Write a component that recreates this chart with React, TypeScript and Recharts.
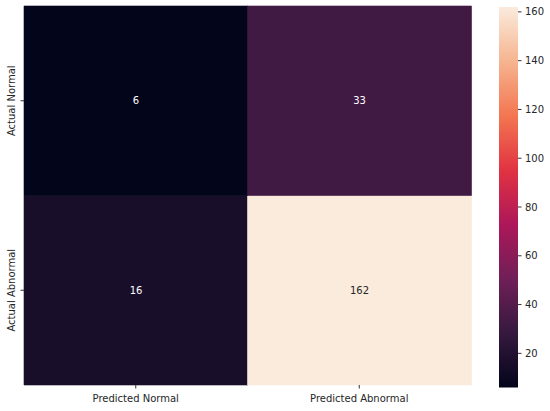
import React from "react";
import {
  BarChart,
  Bar,
  Cell,
  XAxis,
  YAxis,
  LabelList,
} from "recharts";

const rowLabels = ["Actual Normal", "Actual Abnormal"];
const colLabels = ["Predicted Normal", "Predicted Abnormal"];
// counts[row][col]
const counts = [
  [6, 33],
  [16, 162],
];
const colorbarTicks = [20, 40, 60, 80, 100, 120, 140, 160];

const VMIN = 6;
const VMAX = 162;
const FONT = "'DejaVu Sans', sans-serif";

/* rocket colormap, sampled */
const ROCKET: [number, string][] = [
  [0, "#03051a"],
  [0.143, "#35193e"],
  [0.286, "#701f57"],
  [0.429, "#ad1759"],
  [0.571, "#e13342"],
  [0.714, "#f37651"],
  [0.857, "#f6b48f"],
  [1, "#faebdd"],
];

const hexToRgb = (h: string) => [
  parseInt(h.slice(1, 3), 16),
  parseInt(h.slice(3, 5), 16),
  parseInt(h.slice(5, 7), 16),
];

const rocketRgb = (v: number) => {
  const t = Math.min(1, Math.max(0, (v - VMIN) / (VMAX - VMIN)));
  for (let i = 1; i < ROCKET.length; i++) {
    const [p1, c1] = ROCKET[i];
    const [p0, c0] = ROCKET[i - 1];
    if (t <= p1) {
      const f = (t - p0) / (p1 - p0);
      const a = hexToRgb(c0);
      const b = hexToRgb(c1);
      return a.map((x, k) => Math.round(x + (b[k] - x) * f));
    }
  }
  return hexToRgb(ROCKET[ROCKET.length - 1][1]);
};

const rocket = (v: number) => {
  const [r, g, b] = rocketRgb(v);
  return `rgb(${r},${g},${b})`;
};

const textColor = (v: number) => {
  const [r, g, b] = rocketRgb(v).map((c) => {
    const s = c / 255;
    return s <= 0.03928 ? s / 12.92 : Math.pow((s + 0.055) / 1.055, 2.4);
  });
  const lum = 0.2126 * r + 0.7152 * g + 0.0722 * b;
  return lum > 0.408 ? "#262626" : "#ffffff";
};

// one category per column, stacked: bottom = Actual Abnormal, top = Actual Normal
const data = colLabels.map((name, j) => ({
  name,
  bottom: 1,
  top: 1,
  vBottom: counts[1][j],
  vTop: counts[0][j],
}));

const colorbarData = [{ name: "cb", range: [VMIN, VMAX] }];

const CellLabel = (props: any) => {
  const { x, y, width, height, value } = props;
  return (
    <text
      x={x + width / 2}
      y={y + height / 2}
      textAnchor="middle"
      dominantBaseline="central"
      fill={textColor(value)}
      style={{ fontFamily: FONT, fontSize: 10 }}
    >
      {value}
    </text>
  );
};

const RowTick = (props: any) => {
  const { x, y, payload } = props;
  const label = payload.value > 1 ? rowLabels[0] : rowLabels[1];
  return (
    <text
      x={x}
      y={y}
      transform={`rotate(-90, ${x}, ${y})`}
      textAnchor="middle"
      fill="#262626"
      style={{ fontFamily: FONT, fontSize: 10 }}
    >
      {label}
    </text>
  );
};

export default function App() {
  return (
    <div
      style={{
        position: "absolute",
        left: 0,
        top: 0,
        width: 550,
        height: 411,
        background: "#fff",
      }}
    >
      <div style={{ position: "absolute", left: 0, top: 0 }}>
        <BarChart
          width={550}
          height={411}
          data={data}
          margin={{ top: 6, right: 79, bottom: 0, left: 0 }}
          barCategoryGap={0}
          barGap={0}
        >
          <XAxis
            dataKey="name"
            height={26}
            axisLine={false}
            tickSize={3.5}
            tickMargin={6.5}
            tickLine={{ stroke: "#333" }}
            tick={{ fill: "#262626", fontSize: 10, fontFamily: FONT }}
          />
          <YAxis
            type="number"
            domain={[0, 2]}
            ticks={[0.5, 1.5]}
            width={24}
            axisLine={false}
            tickSize={3.5}
            tickMargin={5.5}
            tickLine={{ stroke: "#333" }}
            tick={<RowTick />}
          />
          <Bar dataKey="bottom" stackId="m" isAnimationActive={false}>
            {data.map((d, i) => (
              <Cell
                key={`b-${i}`}
                fill={rocket(d.vBottom)}
                stroke={rocket(d.vBottom)}
                strokeWidth={0.6}
              />
            ))}
            <LabelList dataKey="vBottom" content={<CellLabel />} />
          </Bar>
          <Bar dataKey="top" stackId="m" isAnimationActive={false}>
            {data.map((d, i) => (
              <Cell
                key={`t-${i}`}
                fill={rocket(d.vTop)}
                stroke={rocket(d.vTop)}
                strokeWidth={0.6}
              />
            ))}
            <LabelList dataKey="vTop" content={<CellLabel />} />
          </Bar>
        </BarChart>
      </div>

      <div style={{ position: "absolute", left: 499, top: 0 }}>
        <BarChart
          width={51}
          height={411}
          data={colorbarData}
          margin={{ top: 7, right: 0, bottom: 23.5, left: 0 }}
          barCategoryGap={0}
        >
          <defs>
            <linearGradient id="rocketGrad" x1="0" y1="0" x2="0" y2="1">
              {ROCKET.slice()
                .reverse()
                .map(([p, c]) => (
                  <stop key={p} offset={1 - p} stopColor={c} />
                ))}
            </linearGradient>
          </defs>
          <XAxis dataKey="name" hide />
          <YAxis
            type="number"
            orientation="right"
            domain={[VMIN, VMAX]}
            ticks={colorbarTicks}
            width={32}
            axisLine={false}
            tickSize={3.5}
            tickMargin={3.5}
            tickLine={{ stroke: "#333" }}
            tick={{ fill: "#262626", fontSize: 10, fontFamily: FONT }}
          />
          <Bar dataKey="range" fill="url(#rocketGrad)" isAnimationActive={false} />
        </BarChart>
      </div>
    </div>
  );
}
